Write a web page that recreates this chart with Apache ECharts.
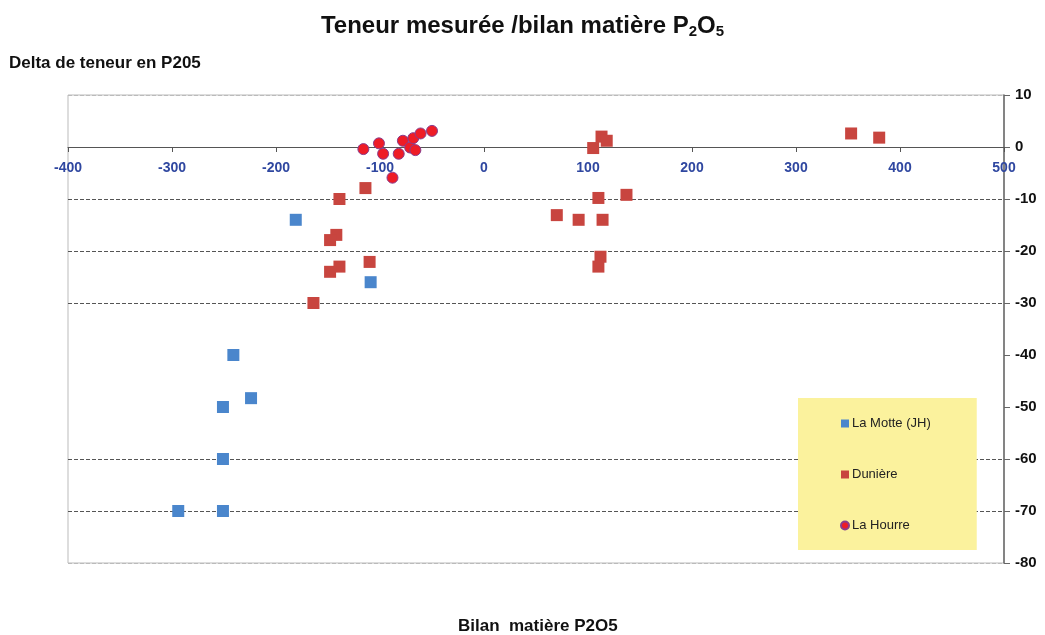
<!DOCTYPE html>
<html><head><meta charset="utf-8">
<script src="https://cdn.jsdelivr.net/npm/echarts@6/dist/echarts.min.js"></script>
<style>html,body{margin:0;padding:0;background:#fff}#c{width:1045px;height:635px}</style>
</head><body><div id="c"></div>
<script>
// ---- Data ----
const seriesNames = ['La Motte (JH)', 'Dunière', 'La Hourre'];

const laMotteX = [-181, -109, -241, -251, -224, -251, -294, -251];
const laMotteY = [-14, -26, -40, -50, -48.3, -60, -70, -70];

const duniereX = [-114, -139, -142, -148, -139, -148, -110, -164, 105, 113, 118, 110, 137, 70, 91, 114, 112, 110, 353, 380];
const duniereY = [-7.9, -10, -16.9, -17.9, -23, -24, -22.1, -30, -0.2, 2.0, 1.2, -9.8, -9.2, -13.1, -14, -14, -21.1, -23, 2.6, 1.8];

const laHourreX = [-116, -101, -97, -88, -82, -78, -71, -68, -66, -61, -50];
const laHourreY = [-0.4, 0.7, -1.3, -5.9, -1.3, 1.2, -0.1, 1.7, -0.6, 2.6, 3.1];

const xTicks = { min: -400, max: 500, step: 100 };
const yTicks = { min: -80, max: 10, step: 10 };

const titleText = 'Teneur mesurée /bilan matière P{s|2}O{s|5}';
const yAxisTitle = 'Delta de teneur en P205';
const xAxisTitle = 'Bilan  matière P2O5';

function pairs(xs, ys) { return xs.map((x, i) => [x, ys[i]]); }

// layout of the plot area
const G = { left: 68, right: 41, top: 95, bottom: 72 };
const plotH = 635 - G.top - G.bottom;
// move the x axis (line + labels) up to y = 0
const xAxisOffset = -plotH * (0 - yTicks.min) / (yTicks.max - yTicks.min);

const chart = echarts.init(document.getElementById('c'), null, { renderer: 'canvas' });
const gridColors = ['#bbb', '#555', '#555', 'rgba(0,0,0,0)', 'rgba(0,0,0,0)', '#555', '#555', '#555', 'rgba(0,0,0,0)', '#bbb'];

chart.setOption({
  animation: false,
  backgroundColor: '#fff',
  textStyle: { fontFamily: 'Liberation Sans, Arial, sans-serif' },
  title: [
    {
      text: titleText, left: 'center', top: 9,
      textStyle: {
        fontFamily: 'Liberation Sans, Arial', fontWeight: 'bold', fontSize: 24, color: '#111',
        rich: { s: { fontFamily: 'Liberation Sans, Arial', fontWeight: 'bold', fontSize: 15, color: '#111', verticalAlign: 'bottom', padding: [10, 0, 0, 0] } }
      }
    },
    { text: yAxisTitle, left: 4, top: 50, textStyle: { fontFamily: 'Liberation Sans, Arial', fontWeight: 'bold', fontSize: 17, color: '#111' } },
    { text: xAxisTitle, left: 453, top: 613, textStyle: { fontFamily: 'Liberation Sans, Arial', fontWeight: 'bold', fontSize: 17, color: '#111' } }
  ],
  grid: { left: G.left, right: G.right, top: G.top, bottom: G.bottom, show: true, borderColor: '#bbb', borderWidth: 1, containLabel: false },
  legend: {
    orient: 'vertical', left: 798, top: 398,
    backgroundColor: '#fbf29d',
    padding: [19, 46, 18, 42],
    itemGap: 38, itemWidth: 8, itemHeight: 8,
    textStyle: { fontSize: 13, color: '#222', padding: [0, 0, 0, -2] },
    data: [
      { name: seriesNames[0], icon: 'rect' },
      { name: seriesNames[1], icon: 'rect' },
      { name: seriesNames[2], icon: 'circle' }
    ]
  },
  xAxis: {
    type: 'value', min: xTicks.min, max: xTicks.max, interval: xTicks.step,
    position: 'bottom', offset: xAxisOffset,
    axisLine: { show: true, onZero: false, lineStyle: { color: '#555', width: 1 } },
    axisTick: { show: true, length: 5, lineStyle: { color: '#555' } },
    axisLabel: { color: '#2f47a0', fontWeight: 'bold', fontSize: 14, margin: 14 },
    splitLine: { show: false }
  },
  yAxis: {
    type: 'value', position: 'right', min: yTicks.min, max: yTicks.max, interval: yTicks.step,
    axisLine: { show: true, onZero: false, lineStyle: { color: '#666', width: 1.5 } },
    axisTick: { show: true, length: 6, lineStyle: { color: '#666' } },
    axisLabel: { color: '#111', fontWeight: 'bold', fontSize: 15, margin: 11 },
    splitLine: { show: true, lineStyle: { color: gridColors, width: 1, type: [4, 2] } }
  },
  series: [
    { name: seriesNames[0], type: 'scatter', symbol: 'rect', symbolSize: 12, itemStyle: { color: '#4a86cc', opacity: 1 }, data: pairs(laMotteX, laMotteY), z: 3 },
    { name: seriesNames[1], type: 'scatter', symbol: 'rect', symbolSize: 12, itemStyle: { color: '#c8453f', opacity: 1 }, data: pairs(duniereX, duniereY), z: 4 },
    { name: seriesNames[2], type: 'scatter', symbol: 'circle', symbolSize: 11, itemStyle: { color: '#ee1c26', borderColor: '#8a3c8c', borderWidth: 1, opacity: 1 }, data: pairs(laHourreX, laHourreY), z: 5 }
  ]
});
</script>
</body></html>
